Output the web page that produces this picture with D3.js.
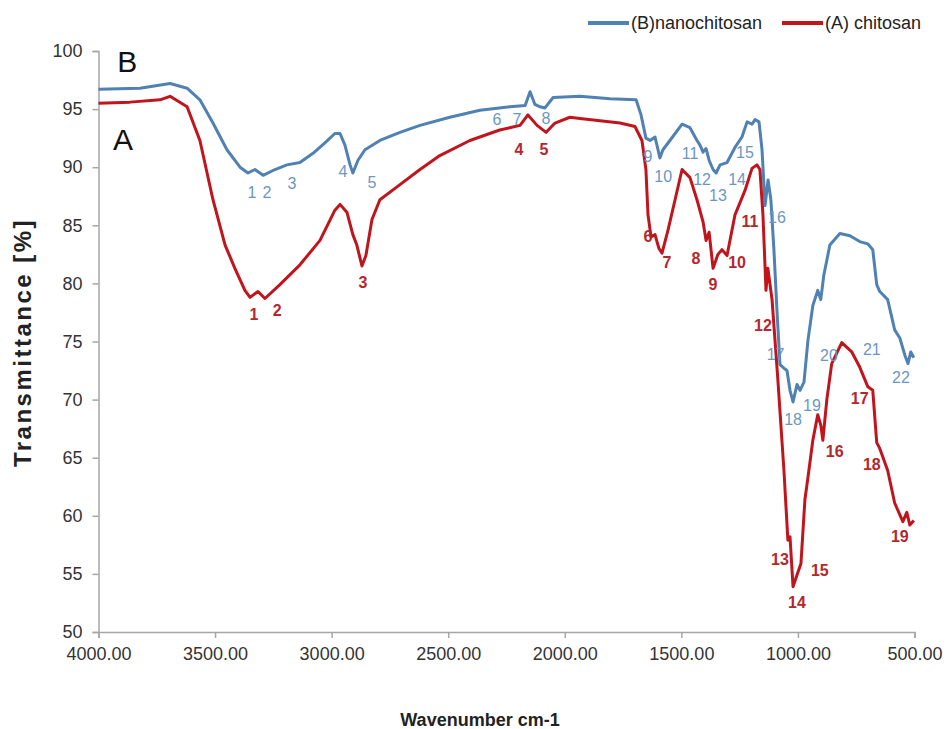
<!DOCTYPE html>
<html>
<head>
<meta charset="utf-8">
<script src="https://cdn.jsdelivr.net/npm/d3@7"></script>
<style>
  body { margin: 0; background: #fff; }
  svg { display: block; font-family: 'Liberation Sans', Arial, sans-serif; }
</style>
</head>
<body>
<div id="wrapper"></div>
<script>
// (A) chitosan spectrum, [wavenumber, transmittance]
const chitosan = [
  [4000, 95.5], [3865, 95.6], [3736, 95.8], [3693, 96.1], [3620, 95.2], [3565, 92.3],
  [3509, 87.2], [3457, 83.3], [3415, 81.3], [3372, 79.4], [3350, 78.8], [3316, 79.3],
  [3286, 78.7], [3222, 79.9], [3136, 81.6], [3050, 83.7], [2986, 86.3], [2964, 86.8],
  [2934, 86.1], [2909, 84.2], [2892, 83.3], [2870, 81.5], [2853, 82.4], [2827, 85.5],
  [2793, 87.2], [2707, 88.5], [2621, 89.8], [2536, 91.0], [2407, 92.3], [2279, 93.2],
  [2192, 93.6], [2158, 94.5], [2119, 93.6], [2080, 93.0], [2042, 93.8], [1978, 94.3],
  [1935, 94.2], [1763, 93.8], [1699, 93.5], [1669, 92.3], [1652, 89.8], [1643, 85.9],
  [1630, 84.0], [1613, 84.2], [1596, 83.0], [1583, 82.6], [1557, 84.6], [1527, 87.2],
  [1497, 89.8], [1463, 89.1], [1433, 87.2], [1407, 85.3], [1394, 83.7], [1381, 84.4],
  [1364, 81.3], [1343, 82.5], [1326, 82.9], [1304, 82.4], [1270, 85.9], [1227, 88.0],
  [1197, 89.9], [1176, 90.2], [1163, 89.8], [1150, 85.9], [1137, 79.4], [1129, 81.3],
  [1111, 78.6], [1086, 71.7], [1060, 63.9], [1043, 57.9], [1034, 58.2], [1021, 53.9],
  [1004, 54.9], [987, 55.9], [970, 61.4], [957, 63.3], [936, 66.5], [915, 68.7],
  [902, 67.8], [893, 66.5], [876, 70.0], [855, 73.1], [812, 74.9], [769, 74.1],
  [735, 72.8], [700, 71.1], [679, 70.8], [662, 66.3], [649, 65.8], [615, 63.9],
  [585, 61.1], [550, 59.5], [533, 60.3], [520, 59.2], [503, 59.6]
]

// (B) nanochitosan spectrum
const nanochitosan = [
  [4000, 96.7], [3822, 96.8], [3693, 97.2], [3620, 96.8], [3565, 95.8], [3509, 93.8],
  [3449, 91.5], [3393, 90.0], [3359, 89.5], [3329, 89.8], [3294, 89.3], [3243, 89.8],
  [3192, 90.2], [3136, 90.4], [3080, 91.2], [3029, 92.1], [2986, 92.9], [2964, 92.9],
  [2943, 91.9], [2921, 90.2], [2909, 89.5], [2887, 90.6], [2857, 91.5], [2793, 92.3],
  [2707, 93.0], [2621, 93.6], [2493, 94.3], [2364, 94.9], [2235, 95.2], [2170, 95.3],
  [2149, 96.5], [2128, 95.4], [2106, 95.2], [2085, 95.1], [2050, 96.0], [1935, 96.1],
  [1806, 95.9], [1694, 95.8], [1673, 94.5], [1652, 92.5], [1634, 92.3], [1613, 92.6],
  [1592, 90.8], [1579, 91.5], [1549, 92.3], [1497, 93.7], [1463, 93.4], [1433, 92.3],
  [1420, 91.9], [1407, 91.3], [1394, 91.6], [1381, 90.6], [1364, 89.8], [1351, 89.5],
  [1334, 90.2], [1304, 90.4], [1270, 91.7], [1240, 92.6], [1218, 93.9], [1197, 93.7],
  [1184, 94.1], [1167, 93.9], [1154, 91.5], [1141, 86.7], [1128, 88.9], [1116, 87.2],
  [1103, 82.9], [1090, 77.7], [1077, 73.0], [1060, 72.7], [1047, 72.5], [1034, 70.8],
  [1021, 69.8], [1004, 71.3], [991, 70.8], [974, 71.5], [957, 75.1], [936, 78.1],
  [915, 79.4], [902, 78.6], [889, 80.7], [863, 83.3], [820, 84.3], [777, 84.1],
  [735, 83.6], [700, 83.4], [679, 82.9], [662, 79.9], [649, 79.3], [615, 78.6],
  [585, 76.0], [563, 75.3], [541, 73.8], [528, 73.1], [516, 74.1], [503, 73.6]
]

// peak numbers, [label, wavenumber, transmittance]
const chitosanPeaks = [
  ['1', 3333, 77.3], ['2', 3234, 77.7], ['3', 2866, 80.1], ['4', 2197, 91.5], ['5', 2089, 91.5],
  ['6', 1643, 84.0], ['7', 1562, 81.8], ['8', 1437, 82.1], ['9', 1364, 79.9], ['10', 1261, 81.8],
  ['11', 1206, 85.3], ['12', 1150, 76.4], ['13', 1077, 56.2], ['14', 1004, 52.5], ['15', 906, 55.3],
  ['16', 842, 65.5], ['17', 735, 70.1], ['18', 683, 64.4], ['19', 563, 58.2]
]
const nanoPeaks = [
  ['1', 3342, 87.8], ['2', 3277, 87.8], ['3', 3170, 88.6], ['4', 2951, 89.6], ['5', 2827, 88.7],
  ['6', 2291, 94.1], ['7', 2205, 94.1], ['8', 2081, 94.2], ['9', 1643, 90.9], ['10', 1578, 89.2],
  ['11', 1463, 91.2], ['12', 1411, 88.9], ['13', 1343, 87.6], ['14', 1261, 88.9], ['15', 1227, 91.3],
  ['16', 1090, 85.7], ['17', 1096, 73.9], ['18', 1021, 68.3], ['19', 940, 69.5], ['20', 867, 73.8],
  ['21', 683, 74.3], ['22', 558, 71.9]
]

const xTicks = [4000, 3500, 3000, 2500, 2000, 1500, 1000, 500]
const yTicks = [50, 55, 60, 65, 70, 75, 80, 85, 90, 95, 100]

const legendItems = [
  { name: '(B)nanochitosan', color: '#4f81b3' },
  { name: '(A) chitosan', color: '#c0151d' },
]

const dimensions = {
  width: 948,
  height: 729,
  margin: { top: 51, right: 33.5, bottom: 97, left: 98.5 },
}
dimensions.boundedWidth = dimensions.width - dimensions.margin.left - dimensions.margin.right
dimensions.boundedHeight = dimensions.height - dimensions.margin.top - dimensions.margin.bottom

const xScale = d3.scaleLinear().domain([4000, 500]).range([0, dimensions.boundedWidth])
const yScale = d3.scaleLinear().domain([50, 100]).range([dimensions.boundedHeight, 0])

const wrapper = d3.select('#wrapper')
  .append('svg')
  .attr('width', dimensions.width)
  .attr('height', dimensions.height)

const bounds = wrapper.append('g')
  .attr('transform', `translate(${dimensions.margin.left}, ${dimensions.margin.top})`)

// axes
const yAxis = bounds.append('g')
  .call(d3.axisLeft(yScale).tickValues(yTicks).tickSize(6).tickPadding(10).tickFormat(d3.format('d')))
const xAxis = bounds.append('g')
  .attr('transform', `translate(0, ${dimensions.boundedHeight})`)
  .call(d3.axisBottom(xScale).tickValues(xTicks).tickSize(6).tickPadding(9).tickFormat(d3.format('.2f')))

;[xAxis, yAxis].forEach((ax) => {
  ax.select('.domain').attr('stroke', '#a6a6a6').attr('stroke-width', 1.5)
  ax.selectAll('.tick line').attr('stroke', '#a6a6a6').attr('stroke-width', 1.5)
  ax.selectAll('.tick text')
    .attr('font-size', 18)
    .attr('font-family', 'Liberation Sans, Arial, sans-serif')
    .attr('fill', '#333')
})

// spectra
const lineGenerator = d3.line()
  .x((d) => xScale(d[0]))
  .y((d) => yScale(d[1]))

bounds.append('path')
  .datum(nanochitosan)
  .attr('fill', 'none')
  .attr('stroke', legendItems[0].color)
  .attr('stroke-width', 3)
  .attr('stroke-linejoin', 'round')
  .attr('d', lineGenerator)

bounds.append('path')
  .datum(chitosan)
  .attr('fill', 'none')
  .attr('stroke', legendItems[1].color)
  .attr('stroke-width', 3)
  .attr('stroke-linejoin', 'round')
  .attr('d', lineGenerator)

// peak numbers
bounds.append('g').selectAll('text')
  .data(nanoPeaks)
  .enter()
  .append('text')
  .attr('x', (d) => xScale(d[1]))
  .attr('y', (d) => yScale(d[2]))
  .attr('text-anchor', 'middle')
  .attr('dominant-baseline', 'central')
  .attr('font-size', 16)
  .attr('fill', '#6a97c2')
  .text((d) => d[0])

bounds.append('g').selectAll('text')
  .data(chitosanPeaks)
  .enter()
  .append('text')
  .attr('x', (d) => xScale(d[1]))
  .attr('y', (d) => yScale(d[2]))
  .attr('text-anchor', 'middle')
  .attr('dominant-baseline', 'central')
  .attr('font-size', 16)
  .attr('font-weight', 'bold')
  .attr('fill', '#b3272d')
  .text((d) => d[0])

// curve letters
bounds.append('text')
  .attr('x', xScale(3877))
  .attr('y', yScale(98.2))
  .attr('text-anchor', 'middle')
  .attr('font-size', 30)
  .attr('fill', '#111')
  .text('B')
bounds.append('text')
  .attr('x', xScale(3895))
  .attr('y', yScale(91.5))
  .attr('text-anchor', 'middle')
  .attr('font-size', 30)
  .attr('fill', '#111')
  .text('A')

// axis titles
wrapper.append('text')
  .attr('transform', `translate(31, ${dimensions.margin.top + dimensions.boundedHeight / 2 + 1}) rotate(-90)`)
  .attr('text-anchor', 'middle')
  .attr('font-size', 24)
  .attr('font-weight', 'bold')
  .attr('letter-spacing', 2.5)
  .attr('fill', '#222')
  .text('Transmittance [%]')

wrapper.append('text')
  .attr('x', 480)
  .attr('y', 726)
  .attr('text-anchor', 'middle')
  .attr('font-size', 18)
  .attr('font-weight', 'bold')
  .attr('fill', '#222')
  .text('Wavenumber cm-1')

// legend
const legendX = [588, 782]
const legend = wrapper.append('g')
legendItems.forEach((item, i) => {
  const g = legend.append('g').attr('transform', `translate(${legendX[i]}, 23)`)
  g.append('line')
    .attr('x1', 0).attr('x2', 41)
    .attr('stroke', item.color)
    .attr('stroke-width', 4)
  g.append('text')
    .attr('x', 43)
    .attr('dominant-baseline', 'central')
    .attr('font-size', 18)
    .attr('fill', '#222')
    .text(item.name)
})
</script>
</body>
</html>
